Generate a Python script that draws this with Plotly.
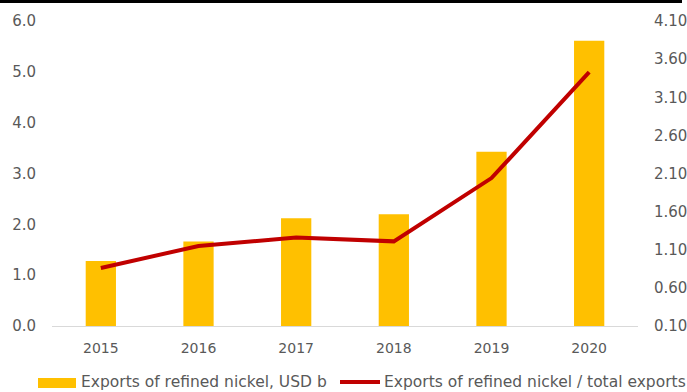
import plotly.graph_objects as go

# Refined nickel exports by year
years = ["2015", "2016", "2017", "2018", "2019", "2020"]
exports_usd_b = [1.28, 1.66, 2.12, 2.20, 3.43, 5.61]
share_of_total = [0.86, 1.15, 1.26, 1.21, 2.04, 3.43]

bar_name = "Exports of refined nickel, USD b"
line_name = "Exports of refined nickel / total exports"

BAR_COLOR = "#FFC000"
LINE_COLOR = "#C00000"
TEXT_COLOR = "#595959"
FONT = "DejaVu Sans"
X_TICK_SIZE = 14
Y_TICK_SIZE = 15
LEGEND_SIZE = 15.5

W, H = 687, 392
L, R, T, B = 52, 49, 21, 66
plot_w = W - L - R
plot_h = H - T - B


def px_x(p):
    return (p - L) / plot_w


def px_y(p):
    return (H - B - p) / plot_h


fig = go.Figure()
fig.add_trace(go.Bar(
    x=years, y=exports_usd_b, name=bar_name,
    marker=dict(color=BAR_COLOR, line=dict(width=0)),
    width=0.31, yaxis="y",
))
fig.add_trace(go.Scatter(
    x=years, y=share_of_total, name=line_name, mode="lines",
    line=dict(color=LINE_COLOR, width=4), yaxis="y2",
))

fig.update_layout(
    width=W, height=H,
    margin=dict(l=L, r=R, t=T, b=B, autoexpand=False),
    paper_bgcolor="white", plot_bgcolor="white",
    showlegend=False,
    font=dict(family=FONT, size=X_TICK_SIZE, color=TEXT_COLOR),
    xaxis=dict(
        showgrid=False, showline=True, linecolor="#D9D9D9", linewidth=1,
        ticks="", tickfont=dict(size=X_TICK_SIZE, color=TEXT_COLOR),
        ticklabelstandoff=9, automargin=False,
    ),
    yaxis=dict(
        range=[0, 6], dtick=1, tickformat=".1f", showgrid=False,
        zeroline=False, showline=False, ticks="",
        tickfont=dict(size=Y_TICK_SIZE, color=TEXT_COLOR), ticklabelstandoff=15,
        automargin=False,
    ),
    yaxis2=dict(
        range=[0.1, 4.1], dtick=0.5, tick0=0.1, tickformat=".2f",
        overlaying="y", side="right", showgrid=False, zeroline=False,
        showline=False, ticks="", tickfont=dict(size=Y_TICK_SIZE, color=TEXT_COLOR),
        ticklabelstandoff=15, automargin=False,
    ),
    shapes=[
        # heavy rule along the top edge
        dict(type="rect", xref="paper", yref="paper",
             x0=px_x(0), x1=px_x(682), y0=px_y(3), y1=px_y(0),
             fillcolor="black", line=dict(width=0), layer="above"),
        # legend swatches
        dict(type="rect", xref="paper", yref="paper",
             x0=px_x(38), x1=px_x(76), y0=px_y(388), y1=px_y(378),
             fillcolor=BAR_COLOR, line=dict(width=0)),
        dict(type="line", xref="paper", yref="paper",
             x0=px_x(340), x1=px_x(380), y0=px_y(382), y1=px_y(382),
             line=dict(color=LINE_COLOR, width=4)),
    ],
    annotations=[
        dict(text=bar_name, xref="paper", yref="paper", x=px_x(79), y=px_y(382),
             xanchor="left", yanchor="middle", showarrow=False,
             font=dict(size=LEGEND_SIZE, color=TEXT_COLOR)),
        dict(text=line_name, xref="paper", yref="paper", x=px_x(382), y=px_y(382),
             xanchor="left", yanchor="middle", showarrow=False,
             font=dict(size=LEGEND_SIZE, color=TEXT_COLOR)),
    ],
)

fig.write_html("out.html")
